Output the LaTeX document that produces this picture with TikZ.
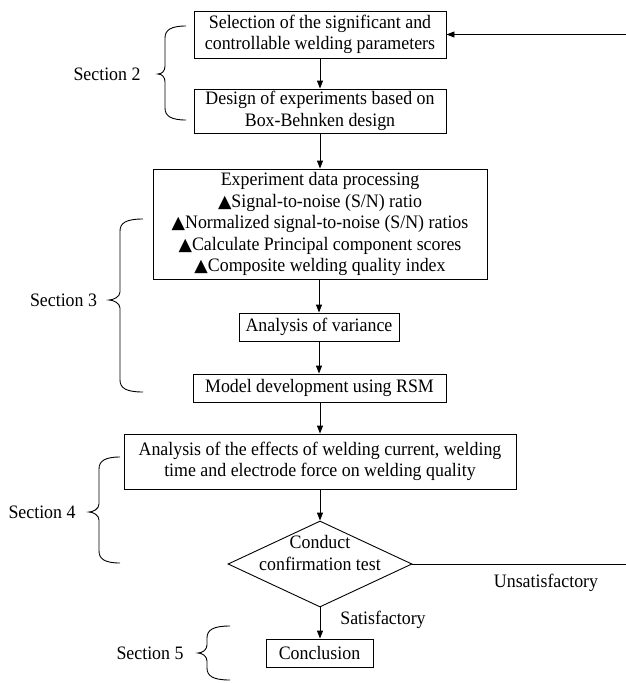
\documentclass[tikz,border=0pt]{standalone}
\usepackage{fontspec}
\setmainfont{Liberation Serif}[FakeStretch=0.94]
\newfontfamily\symfont{DejaVu Sans}
\usetikzlibrary{arrows.meta,shapes.geometric}
\newcommand\tri{{\symfont\fontsize{17.5}{17.5}\selectfont ▲}}
\newcommand\secbrace[6]{% xr xv xt yt ym yb
  \draw[bracestyle] (#1,#4) .. controls ({#2+6},#4) and (#2,{#4+4}) .. (#2,{#4+12})
    -- (#2,{#5-8}) .. controls (#2,{#5-3}) and ({#3+4},#5) .. (#3,#5)
    .. controls ({#3+4},#5) and (#2,{#5+3}) .. (#2,{#5+8})
    -- (#2,{#6-12}) .. controls (#2,{#6-4}) and ({#2+6},#6) .. (#1,#6);}
\begin{document}
\begin{tikzpicture}[x=1pt,y=-1pt,
  every node/.style={font=\rmfamily\fontsize{19}{21.5}\selectfont},
  box/.style={draw,line width=0.9pt,inner sep=0pt,align=center},
  arr/.style={line width=0.9pt,-{Triangle[length=8pt,width=6pt]}},
  bracestyle/.style={line width=0.9pt},
  lbl/.style={inner sep=0pt}
]
\useasboundingbox (0,0) rectangle (626,683);
\node[box,minimum width=252pt,minimum height=47pt] (b1) at (320,34.5) {Selection of the significant and\\controllable welding parameters};
\node[box,minimum width=252pt,minimum height=44pt] (b2) at (320,111) {Design of experiments based on\\Box-Behnken design};
\node[box,minimum width=334pt,minimum height=110pt] (b3) at (320,224) {Experiment data processing\\\tri Signal-to-noise (S/N) ratio\\\tri Normalized signal-to-noise (S/N) ratios\\\tri Calculate Principal component scores\\\tri Composite welding quality index};
\node[box,minimum width=160pt,minimum height=28pt] (b4) at (319,327) {Analysis of variance};
\node[box,minimum width=253pt,minimum height=28pt] (b5) at (319.5,388) {Model development using RSM};
\node[box,minimum width=392pt,minimum height=55pt] (b6) at (320,461.5) {Analysis of the effects of welding current, welding\\time and electrode force on welding quality};
\node[draw,diamond,line width=0.9pt,inner sep=0pt,minimum width=184pt,minimum height=86pt] (d) at (320,564) {};
\node[lbl,align=center] (dt) at (320,553) {Conduct\\confirmation test};
\node[box,minimum width=107pt,minimum height=28pt] (b7) at (319.5,653) {Conclusion};

\node[lbl] (s2) at (107,74) {Section 2};
\node[lbl] (s3) at (63.5,300) {Section 3};
\node[lbl] (s4) at (42,512) {Section 4};
\node[lbl] (s5) at (150,653) {Section 5};
\node[lbl] (uns) at (546,583) {Unsatisfactory};
\node[lbl] (sat) at (383,620) {Satisfactory};

\draw[arr] (b1) -- (b2);
\draw[arr] (b2) -- (b3);
\draw[arr] (b3.south -| b4.north) -- (b4);
\draw[arr] (b4) -- (b5.north -| b4.south);
\draw[arr] (b5.south -| b6.north) -- (b6);
\draw[arr] (b6.south -| d.north) -- (d.north);
\draw[arr] (d.south) -- (b7.north -| d.south);
\coordinate (rr) at (629,564);
\draw[arr] (d.east) -- (rr) |- (b1.east);

\secbrace{186}{165}{158}{26}{74}{120}
\secbrace{143}{120}{109}{219}{300}{392}
\secbrace{120}{99}{89}{457}{512}{563}
\secbrace{230}{207}{198}{626}{653}{680}
\end{tikzpicture}
\end{document}
